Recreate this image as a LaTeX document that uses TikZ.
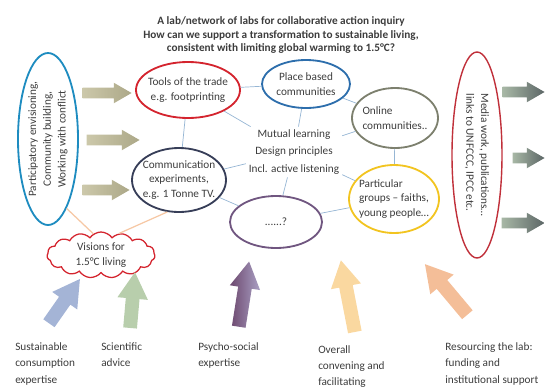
\documentclass[tikz,border=0pt]{standalone}
\usepackage{fontspec}
\setmainfont{Carlito}
\usetikzlibrary{shapes.geometric,shapes.symbols,shapes.arrows}
\definecolor{txt}{RGB}{60,60,60}
\definecolor{lnk}{RGB}{150,182,212}
\definecolor{wl}{RGB}{246,200,165}
\definecolor{envc}{RGB}{30,140,192}
\definecolor{toolc}{RGB}{212,36,46}
\definecolor{placec}{RGB}{45,110,172}
\definecolor{onlc}{RGB}{125,128,110}
\definecolor{commc}{RGB}{55,62,88}
\definecolor{partc}{RGB}{242,196,32}
\definecolor{unkc}{RGB}{112,86,128}
\definecolor{mediac}{RGB}{192,48,58}
\definecolor{khL}{RGB}{204,200,170}
\definecolor{khD}{RGB}{172,168,136}
\definecolor{grL}{RGB}{168,184,166}
\definecolor{grD}{RGB}{92,102,102}
\definecolor{blc}{RGB}{164,180,214}
\definecolor{gnc}{RGB}{184,206,172}
\definecolor{puL}{RGB}{170,160,196}
\definecolor{puD}{RGB}{108,72,110}
\definecolor{orc}{RGB}{250,216,160}
\definecolor{pec}{RGB}{244,190,152}
\tikzset{oval/.style={draw,ellipse,line width=1.3pt,inner sep=-5pt,align=center,text=txt},
 link/.style={draw=lnk,line width=.5pt},warm/.style={draw=wl,line width=.9pt},
 barr/.style={single arrow,draw=none,inner xsep=0pt,single arrow tip angle=60,single arrow head indent=0pt},
 sarr/.style={barr,inner ysep=1.25mm,single arrow head extend=1.25mm},
 larr/.style={barr,inner ysep=1.65mm,single arrow head extend=2.1mm},
 lbl/.style={align=left,anchor=north west,inner sep=0pt,text=txt,font=\fontsize{8}{12}\selectfont},
 every node/.style={font=\fontsize{8}{10.5}\selectfont}}
\begin{document}
\begin{tikzpicture}[x=0.25mm,y=-0.25mm]
\useasboundingbox (0,0) rectangle (548,387);
\node[align=center,text=txt,font=\fontsize{8}{9.6}\selectfont\bfseries] (title) at (281,35)
 {A lab/network of labs for collaborative action inquiry\\How can we support a transformation to sustainable living,\\consistent with limiting global warming to 1.5°C?};
% left and right ovals
\node[oval,draw=envc,rotate=90,minimum width=43mm,minimum height=15mm] (env) at (48,139) {Participatory envisioning,\\Community building,\\Working with conflict};
\node[oval,draw=mediac,line width=1pt,rotate=-90,minimum width=51.5mm,minimum height=12.5mm,align=left] (media) at (477,155) {Media work, publications…\\links to UNFCCC, IPCC etc.};
% the labs
\node[oval,draw=toolc,minimum width=26mm,minimum height=14mm] (tools) at (188,90) {Tools of the trade\\e.g. footprinting};
\node[oval,draw=placec,minimum width=22mm,minimum height=12mm] (place) at (306,84) {Place based\\communities};
\node[oval,draw=onlc,minimum width=21.5mm,minimum height=15mm,align=left] (online) at (395,118) {Online\\communities..};
\node[oval,draw=commc,minimum width=23.5mm,minimum height=16mm] (comm) at (179,180) {Communication\\experiments,\\e.g. 1 Tonne TV.};
\node[oval,draw=partc,minimum width=22.5mm,minimum height=17mm,align=left] (partic) at (394,199) {Particular\\groups – faiths,\\young people…};
\node[oval,draw=unkc,minimum width=23mm,minimum height=13mm] (unk) at (276,222) {......?};
\node[align=center,text=txt,inner sep=2pt,font=\fontsize{8}{12.4}\selectfont] (core) at (294,152) {Mutual learning\\Design principles\\Incl. active listening};
\node[cloud,draw=toolc,line width=.9pt,fill=white,cloud puffs=15,cloud puff arc=110,aspect=2.3,inner sep=-3pt,minimum width=27mm,minimum height=11.5mm,align=center,text=txt] (vis) at (101,255) {Visions for\\1.5°C living};
\draw[link] (tools) -- (place);
\draw[link] (tools) -- (comm);
\draw[link] (tools) -- (core);
\draw[link] (comm) -- (core);
\draw[link] (place) -- (core);
\draw[link] (place) -- (online);
\draw[link] (online) -- (core);
\draw[link] (online) -- (partic);
\draw[link] (core) -- (partic);
\draw[link] (core) -- (unk);
\draw[link] (unk) -- (partic);
\draw[link] (comm) -- (unk);
\draw[warm] (env.195) -- (vis.110);
\draw[warm] (vis.50) -- (comm.250);
% block arrows
\node[sarr,minimum height=12.25mm,left color=khL,right color=khD] (k1) at (102.5,93) {};
\node[sarr,minimum height=13.25mm,left color=khL,right color=khD] (k2) at (108.5,140) {};
\node[sarr,minimum height=11.75mm,left color=khL,right color=khD] (k3) at (101.5,190) {};
\node[sarr,minimum height=10.5mm,left color=grL,right color=grD] (g1) at (519,92) {};
\node[sarr,minimum height=8mm,left color=grL,right color=grD] (g2) at (524,158) {};
\node[sarr,minimum height=10.75mm,left color=grL,right color=grD] (g3) at (518.5,223) {};
\node[larr,minimum height=13.5mm,fill=blc,rotate=55] (up1) at (61,306) {};
\node[larr,minimum height=14mm,fill=gnc,rotate=85] (up2) at (132,306) {};
\node[larr,minimum height=16.5mm,left color=puD,right color=puL,rotate=81] (up3) at (243,300) {};
\node[larr,minimum height=18.25mm,fill=orc,rotate=101] (up4) at (349,302) {};
\node[larr,minimum height=16.5mm,fill=pec,rotate=130] (up5) at (450,294) {};
% what feeds in
\node[lbl] (t1) at (15,342) {Sustainable\\consumption\\expertise};
\node[lbl] (t2) at (101,342) {Scientific\\advice};
\node[lbl] (t3) at (198,342) {Psycho-social\\expertise};
\node[lbl,font=\fontsize{8}{11.4}\selectfont] (t4) at (318,345) {Overall\\convening and\\facilitating};
\node[lbl] (t5) at (445,342) {Resourcing the lab:\\funding and\\institutional support};
\end{tikzpicture}
\end{document}
